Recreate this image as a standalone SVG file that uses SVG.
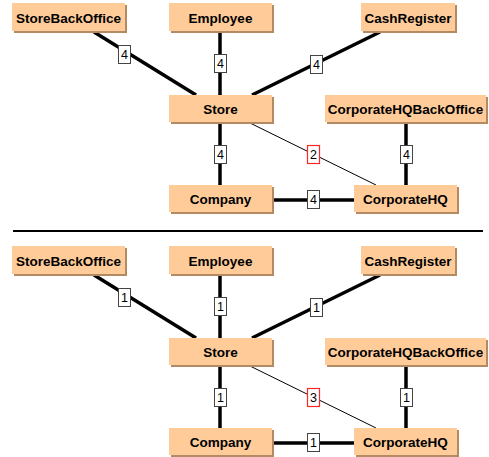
<svg xmlns="http://www.w3.org/2000/svg" width="489" height="457" viewBox="0 0 489 457">
<style>
.sh{fill:#B38A62}
.bx{fill:#FFCC99}
.nt{font-family:"Liberation Sans",Arial,sans-serif;font-weight:bold;font-size:13.5px;fill:#000;text-anchor:middle}
.thick{stroke:#000;stroke-width:3.5;fill:none}
.thin{stroke:#000;stroke-width:1;fill:none}
.lb{fill:#fff;stroke:#444;stroke-width:1}
.lr{fill:#fff;stroke:#FF2828;stroke-width:1.2}
.lt{font-family:"Liberation Sans",Arial,sans-serif;font-size:12.5px;fill:#000;text-anchor:middle}
</style>
<defs>
<g id="conn">
<line class="thick" x1="94" y1="32" x2="196" y2="95"/>
<line class="thick" x1="220" y1="32" x2="220" y2="95"/>
<line class="thick" x1="380" y1="32" x2="252" y2="95"/>
<line class="thick" x1="220" y1="122" x2="220" y2="185"/>
<line class="thin" x1="250" y1="123" x2="376" y2="185"/>
<line class="thick" x1="406" y1="122" x2="406" y2="185"/>
<line class="thick" x1="272" y1="200" x2="354" y2="200"/>
</g>
</defs>
<g id="connectors">
<use href="#conn"/>
<use href="#conn" y="243"/>
</g>
<g id="labels-top">
<rect class="lb" x="118.5" y="45.5" width="12" height="18"/><text class="lt" x="124.5" y="59">4</text>
<rect class="lb" x="214.5" y="54.5" width="12" height="18"/><text class="lt" x="220.5" y="68">4</text>
<rect class="lb" x="310.5" y="55.5" width="12" height="18"/><text class="lt" x="316.5" y="69">4</text>
<rect class="lb" x="214.5" y="145.5" width="12" height="18"/><text class="lt" x="220.5" y="159">4</text>
<rect class="lr" x="307.5" y="145.5" width="12" height="18"/><text class="lt" x="313.5" y="159">2</text>
<rect class="lb" x="400.5" y="145.5" width="12" height="18"/><text class="lt" x="406.5" y="159">4</text>
<rect class="lb" x="307.5" y="190.5" width="12" height="18"/><text class="lt" x="313.5" y="204">4</text>
</g>
<g id="labels-bottom" transform="translate(0,243)">
<rect class="lb" x="118.5" y="45.5" width="12" height="18"/><text class="lt" x="124.5" y="59">1</text>
<rect class="lb" x="214.5" y="54.5" width="12" height="18"/><text class="lt" x="220.5" y="68">1</text>
<rect class="lb" x="310.5" y="55.5" width="12" height="18"/><text class="lt" x="316.5" y="69">1</text>
<rect class="lb" x="214.5" y="145.5" width="12" height="18"/><text class="lt" x="220.5" y="159">1</text>
<rect class="lr" x="307.5" y="145.5" width="12" height="18"/><text class="lt" x="313.5" y="159">3</text>
<rect class="lb" x="400.5" y="145.5" width="12" height="18"/><text class="lt" x="406.5" y="159">1</text>
<rect class="lb" x="307.5" y="190.5" width="12" height="18"/><text class="lt" x="313.5" y="204">1</text>
</g>
<line id="separator" x1="13" y1="231" x2="483" y2="231" stroke="#000" stroke-width="2"/>
<g id="top">
<g id="StoreBackOffice1"><rect class="sh" x="14" y="5" width="113" height="28"/><rect class="bx" x="12" y="3" width="113" height="28"/><text class="nt" x="68.5" y="22.5">StoreBackOffice</text></g>
<g id="Employee1"><rect class="sh" x="171" y="5" width="103" height="28"/><rect class="bx" x="169" y="3" width="103" height="28"/><text class="nt" x="220.5" y="22.5">Employee</text></g>
<g id="CashRegister1"><rect class="sh" x="363" y="5" width="94" height="28"/><rect class="bx" x="361" y="3" width="94" height="28"/><text class="nt" x="408" y="22.5">CashRegister</text></g>
<g id="Store1"><rect class="sh" x="171" y="97" width="103" height="27"/><rect class="bx" x="169" y="95" width="103" height="27"/><text class="nt" x="220.5" y="113.5">Store</text></g>
<g id="CorporateHQBackOffice1"><rect class="sh" x="327" y="97" width="161" height="27"/><rect class="bx" x="325" y="95" width="161" height="27"/><text class="nt" x="405.5" y="113.5">CorporateHQBackOffice</text></g>
<g id="Company1"><rect class="sh" x="171" y="187" width="103" height="27"/><rect class="bx" x="169" y="185" width="103" height="27"/><text class="nt" x="220.5" y="203.5">Company</text></g>
<g id="CorporateHQ1"><rect class="sh" x="356" y="187" width="103" height="27"/><rect class="bx" x="354" y="185" width="103" height="27"/><text class="nt" x="405.5" y="203.5">CorporateHQ</text></g>
</g>
<g id="bottom" transform="translate(0,243)">
<g id="StoreBackOffice2"><rect class="sh" x="14" y="5" width="113" height="28"/><rect class="bx" x="12" y="3" width="113" height="28"/><text class="nt" x="68.5" y="22.5">StoreBackOffice</text></g>
<g id="Employee2"><rect class="sh" x="171" y="5" width="103" height="28"/><rect class="bx" x="169" y="3" width="103" height="28"/><text class="nt" x="220.5" y="22.5">Employee</text></g>
<g id="CashRegister2"><rect class="sh" x="363" y="5" width="94" height="28"/><rect class="bx" x="361" y="3" width="94" height="28"/><text class="nt" x="408" y="22.5">CashRegister</text></g>
<g id="Store2"><rect class="sh" x="171" y="97" width="103" height="27"/><rect class="bx" x="169" y="95" width="103" height="27"/><text class="nt" x="220.5" y="113.5">Store</text></g>
<g id="CorporateHQBackOffice2"><rect class="sh" x="327" y="97" width="161" height="27"/><rect class="bx" x="325" y="95" width="161" height="27"/><text class="nt" x="405.5" y="113.5">CorporateHQBackOffice</text></g>
<g id="Company2"><rect class="sh" x="171" y="187" width="103" height="27"/><rect class="bx" x="169" y="185" width="103" height="27"/><text class="nt" x="220.5" y="203.5">Company</text></g>
<g id="CorporateHQ2"><rect class="sh" x="356" y="187" width="103" height="27"/><rect class="bx" x="354" y="185" width="103" height="27"/><text class="nt" x="405.5" y="203.5">CorporateHQ</text></g>
</g>
</svg>
